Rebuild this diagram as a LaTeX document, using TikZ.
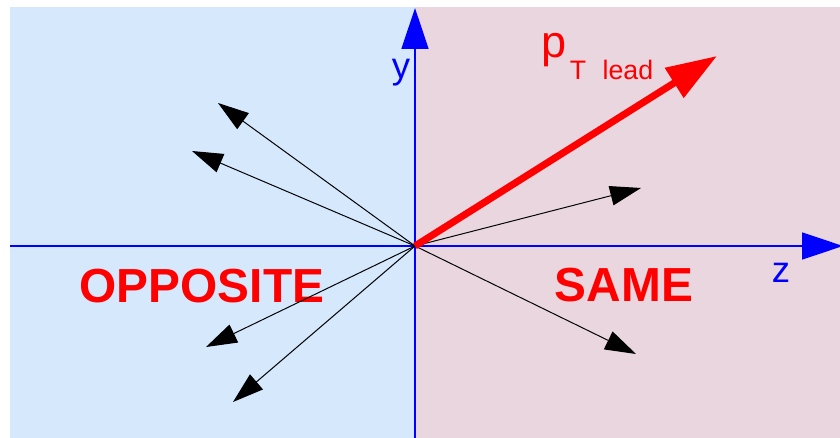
\documentclass[tikz,border=0pt]{standalone}
\usepackage{fontspec}
\setmainfont{Liberation Sans}
\usetikzlibrary{arrows.meta}

\definecolor{oppbg}{RGB}{213,232,252}
\definecolor{samebg}{RGB}{234,214,222}

\begin{document}
\begin{tikzpicture}[x=0.025cm,y=-0.025cm]

\tikzset{
  axisline/.style={
    blue,
    line width=1.4pt,
    -{Triangle[length=29pt,width=19pt]}
  },
  track/.style={
    black,
    line width=0.7pt,
    -{Triangle[length=22pt,width=14pt]}
  },
  leadtrack/.style={
    red,
    line width=5pt,
    -{Triangle[length=36pt,width=24pt]}
  },
  axislabel/.style={
    blue,
    anchor=base,
    font=\fontsize{26}{30}\selectfont
  },
  hemilabel/.style={
    red,
    anchor=base,
    font=\bfseries\fontsize{34}{40}\selectfont
  }
}

% Page and the two hemispheres
\fill[white] (0,0) rectangle (840,438);
\fill[oppbg] (10,7) rectangle (415,438);
\fill[samebg] (415,7) rectangle (840,438);
\useasboundingbox (0,0) rectangle (840,438);

% Origin and axis ends
\coordinate (O) at (415,246);
\coordinate (ybot) at (415,438);
\coordinate (ytip) at (415,8);
\coordinate (zleft) at (10,246);
\coordinate (ztip) at (843,246);

% Axes
\draw[axisline] (zleft) -- (ztip);
\draw[axisline] (ybot) -- (ytip);

% Labels
\node[axislabel] (ylab) at (401,79) {y};
\node[axislabel] (zlab) at (781,283) {z};
\node[hemilabel] (opp) at (202,303) {OPPOSITE};
\node[hemilabel] (same) at (624,302) {SAME};
\node[
  red,
  anchor=base west,
  font=\fontsize{32}{36}\selectfont
] (ptlab) at (537,58)
  {p\hspace{2pt}\raisebox{-15pt}{\fontsize{19}{22}\selectfont T\hspace{0.62em}lead}};

% Track ends
\coordinate (T1) at (218,103);
\coordinate (T2) at (192,151);
\coordinate (T3) at (206,347);
\coordinate (T4) at (233,402);
\coordinate (T5) at (641,188);
\coordinate (T6) at (636,354);
\coordinate (L) at (717,56);

% Tracks
\foreach \t in {T1,T2,T3,T4,T5,T6}{
  \draw[track] (O) -- (\t);
}

% Leading track
\draw[leadtrack] (O) -- (L);

\end{tikzpicture}
\end{document}
